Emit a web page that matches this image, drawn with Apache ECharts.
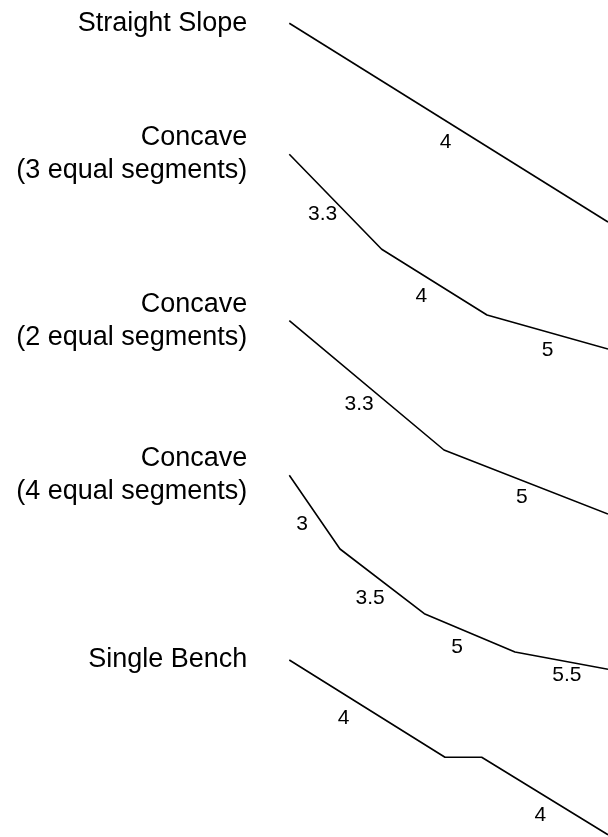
<!DOCTYPE html>
<html>
<head>
<meta charset="utf-8">
<script src="https://cdn.jsdelivr.net/npm/echarts@6/dist/echarts.min.js"></script>
<style>
  html, body { margin: 0; padding: 0; background: #fff; }
  #chart { width: 608px; height: 837px; }
</style>
</head>
<body>
<div id="chart"></div>
<script>
// Profile names
const profileNames = [
  'Straight Slope',
  'Concave\n(3 equal segments)',
  'Concave\n(2 equal segments)',
  'Concave\n(4 equal segments)',
  'Single Bench'
];

// Break points of each profile: [horizontal distance, drop] from the crest
const straightSlope = [[0, 0], [318.7, 198.7]];
const concave3 = [[0, 0], [92.4, 95], [197.7, 160.7], [318.7, 194.7]];
const concave2 = [[0, 0], [154.7, 129.3], [318.7, 193.3]];
const concave4 = [[0, 0], [50.7, 73.7], [135, 138.4], [225.7, 176.7], [318.7, 194]];
const singleBench = [[0, 0], [155.7, 97.3], [192.4, 97.3], [318.7, 174.7]];

// Segment ratio labels (one per segment, '' for none)
const straightLabels = ['4'];
const concave3Labels = ['3.3', '4', '5'];
const concave2Labels = ['3.3', '5'];
const concave4Labels = ['3', '3.5', '5', '5.5'];
const benchLabels = ['4', '', '4'];

const profiles = [straightSlope, concave3, concave2, concave4, singleBench];
const segLabels = [straightLabels, concave3Labels, concave2Labels, concave4Labels, benchLabels];

// layout: where along each segment its label sits (fraction) and how far off the line (px)
const labelAlong = [[0.52], [0.5, 0.47, 0.54], [0.53, 0.51], [0.53, 0.51, 0.44, 0.585], [0.42, 0.5, 0.54]];
const labelOffset = [[18], [18, 18.5, 18], [19, 16], [17, 21, 18.5, 13.5], [21, 18, 18.5]];
const gridTops = [23.3, 154.3, 320.7, 475.3, 660];
const gridLeft = 289.3;
const FONT = '"Liberation Sans", Arial, sans-serif';

const grids = [], xAxes = [], yAxes = [], series = [];
profiles.forEach((pts, i) => {
  const maxX = Math.max(...pts.map(p => p[0]));
  const maxY = Math.max(...pts.map(p => p[1]));
  grids.push({ left: gridLeft, top: gridTops[i], width: maxX, height: maxY, containLabel: false });
  xAxes.push({ gridIndex: i, type: 'value', min: 0, max: maxX, show: false });
  yAxes.push({ gridIndex: i, type: 'value', min: 0, max: maxY, inverse: true, show: false });

  series.push({
    type: 'line', xAxisIndex: i, yAxisIndex: i, data: pts,
    showSymbol: false, symbol: 'none', clip: false,
    lineStyle: { color: '#000', width: 1.6 }, silent: true
  });

  const segs = [];
  for (let k = 0; k < pts.length - 1; k++) {
    segs.push([pts[k][0], pts[k][1], pts[k + 1][0], pts[k + 1][1], k]);
  }
  const labs = segLabels[i];
  series.push({
    type: 'custom', xAxisIndex: i, yAxisIndex: i, data: segs, clip: false, silent: true,
    encode: { x: [0, 2], y: [1, 3] },
    renderItem: function (params, api) {
      const k = api.value(4);
      const a = api.coord([api.value(0), api.value(1)]);
      const b = api.coord([api.value(2), api.value(3)]);
      const txt = labs[k];
      if (!txt) return null;
      const dx = b[0] - a[0], dy = b[1] - a[1];
      const len = Math.sqrt(dx * dx + dy * dy);
      const nx = -dy / len, ny = dx / len;
      const t = labelAlong[i][k], off = labelOffset[i][k];
      return {
        type: 'text',
        x: a[0] + dx * t + nx * off,
        y: a[1] + dy * t + ny * off,
        style: { text: txt, fill: '#000', font: '21px ' + FONT, align: 'center', verticalAlign: 'middle' }
      };
    }
  });

  series.push({
    type: 'custom', xAxisIndex: i, yAxisIndex: i, data: [[0, 0]], clip: false, silent: true,
    renderItem: function (params, api) {
      const p = api.coord([api.value(0), api.value(1)]);
      return {
        type: 'text', x: p[0] - 42, y: p[1],
        style: { text: profileNames[i], fill: '#000', font: '27px ' + FONT, lineHeight: 33,
                 align: 'right', verticalAlign: 'middle' }
      };
    }
  });
});

const chart = echarts.init(document.getElementById('chart'), null, { renderer: 'canvas' });
chart.setOption({
  animation: false,
  backgroundColor: '#fff',
  grid: grids, xAxis: xAxes, yAxis: yAxes, series: series
});
</script>
</body>
</html>
